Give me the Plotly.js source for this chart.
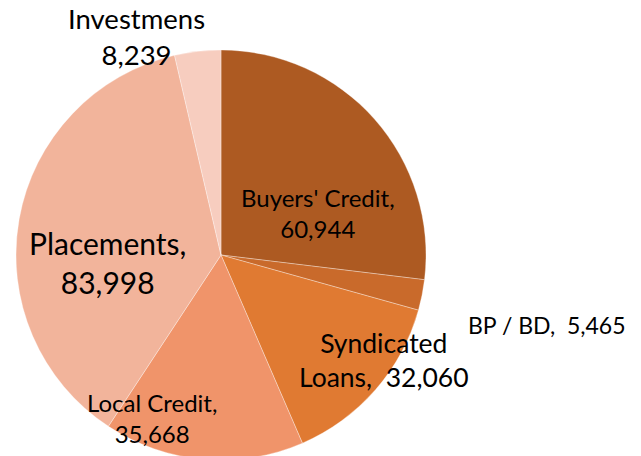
<!DOCTYPE html>
<html>
<head>
<meta charset="utf-8">
<script src="https://cdn.plot.ly/plotly-3.0.1.min.js"></script>
<style>
html,body{margin:0;padding:0;overflow:hidden;background:#fff;}
#chart{width:641px;height:470px;}
</style>
</head>
<body>
<div id="chart"></div>
<script>
const categories = ["Buyers' Credit", "BP / BD", "Syndicated Loans", "Local Credit", "Placements", "Investmens"];
const values = [60944, 5465, 32060, 35668, 83998, 8239];
const sliceColors = ["#AD5A22", "#C96A2B", "#E07A32", "#F0946A", "#F2B49B", "#F7CDBF"];
// label formats (line breaks as in the reference)
const labelPrefix = ["Buyers' Credit,<br>", "BP / BD,  ", "Syndicated<br>Loans,  ", "Local Credit,<br>", "Placements,<br>", "Investmens<br>"];
// label placement in pixels of the 641x470 canvas, and font sizes
const labelPos = [[318, 213], [547, 325], [384, 360], [152, 418], [107, 262], [136, 36]];
const labelSize = [24, 23, 26.5, 24, 30, 27.5];

const W = 641, H = 470;
const fmt = v => v.toLocaleString('en-US');

const annotations = categories.map((c, i) => ({
  xref: 'paper', yref: 'paper',
  x: labelPos[i][0] / W, y: 1 - labelPos[i][1] / H,
  xanchor: 'center', yanchor: 'middle',
  text: labelPrefix[i] + fmt(values[i]),
  showarrow: false,
  font: {family: 'Lato, "Open Sans", sans-serif', size: labelSize[i], color: '#000'}
}));

const trace = {
  type: 'pie',
  labels: categories,
  values: values,
  sort: false,
  direction: 'clockwise',
  rotation: 0,
  textinfo: 'none',
  hoverinfo: 'label+value',
  marker: {colors: sliceColors, line: {color: 'rgba(255,255,255,0.55)', width: 0.6}},
  domain: {x: [16 / W, 426 / W], y: [10 / H, 420 / H]},
  showlegend: false
};

Plotly.newPlot('chart', [trace], {
  width: W, height: H,
  margin: {l: 0, r: 0, t: 0, b: 0},
  paper_bgcolor: '#fff',
  showlegend: false,
  annotations: annotations
}, {displayModeBar: false, staticPlot: true});
</script>
</body>
</html>
